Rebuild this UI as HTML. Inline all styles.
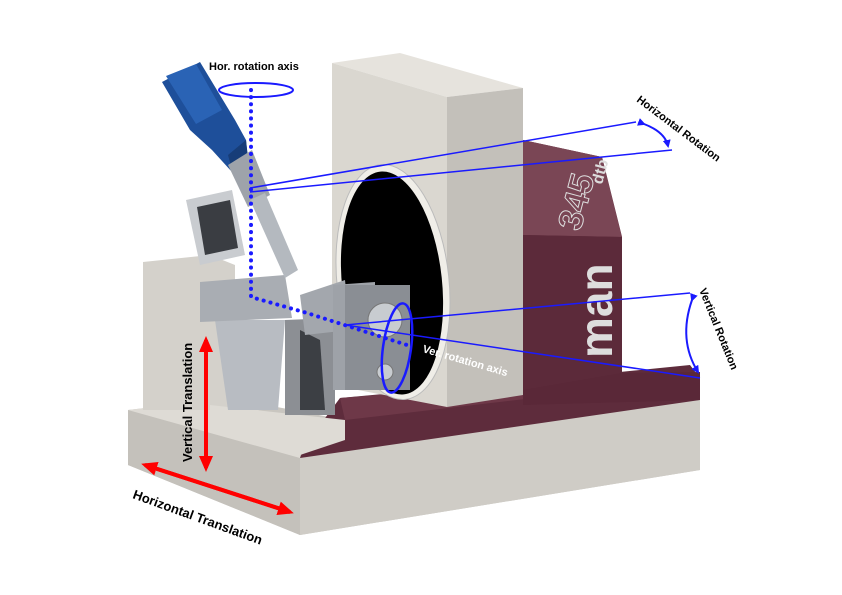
<!DOCTYPE html>
<html><head><meta charset="utf-8"><style>
html,body{margin:0;padding:0;background:#fff;}
svg{display:block;}
text{font-family:"Liberation Sans",sans-serif;font-weight:bold;}
</style></head><body>
<svg width="842" height="595" viewBox="0 0 842 595" xmlns="http://www.w3.org/2000/svg">
<defs>
<marker id="bh" markerWidth="8" markerHeight="8" refX="6" refY="4" orient="auto" markerUnits="userSpaceOnUse"><path d="M0,0 L8,4 L0,8 Z" fill="#1a1aff"/></marker>
<marker id="rh" markerWidth="16" markerHeight="14" refX="12" refY="7" orient="auto" markerUnits="userSpaceOnUse"><path d="M0,0 L16,7 L0,14 Z" fill="#f00"/></marker>
</defs>
<polygon points="128,410 230,398 345,420 700,395 700,470 300,535 128,465" fill="#c9c6c0"/>
<polygon points="128,410 300,458 300,535 128,465" fill="#c4c1bb"/>
<polygon points="300,458 700,398 700,470 300,535" fill="#cfccc6"/>
<polygon points="128,410 215,400 300,420 300,458" fill="#dedbd5"/>
<polygon points="305,445 340,398 560,378 690,365 700,378 700,400 300,458" fill="#5e2c3c"/>
<polygon points="340,398 560,380 560,395 345,420" fill="#6e3848"/>
<polygon points="523,140 602,157 622,237 622,373 700,372 700,400 523,405" fill="#5a2838"/>
<polygon points="523,140 602,157 622,237 523,235" fill="#7a4655"/>
<polygon points="523,235 622,237 622,373 523,390" fill="#5c2a3a"/>
<text x="0" y="0" transform="translate(580,232) rotate(-75)" font-size="34" fill="none" stroke="#ddd" stroke-width="1" font-weight="normal">345</text>
<text x="0" y="0" transform="translate(602,185) rotate(-75)" font-size="16" fill="#ddd">dtb</text>
<text x="0" y="0" transform="translate(612,358) rotate(-90)" font-size="46" fill="#ddd">man</text>
<polygon points="332,63 400,53 523,88 447,97" fill="#e6e3dd"/>
<polygon points="447,97 523,88 523,395 447,407" fill="#c3c0ba"/>
<polygon points="332,63 447,97 447,407 332,385" fill="#dad7d0"/>
<ellipse cx="393" cy="282" rx="56" ry="118" transform="rotate(-6 393 282)" fill="#f0eee8" stroke="#bbb"/>
<ellipse cx="392" cy="283" rx="50" ry="112" transform="rotate(-6 392 283)" fill="#000"/>
<polygon points="143,262 210,255 235,265 235,410 143,410" fill="#d4d1cb"/>
<polygon points="210,405 345,420 345,440 300,455 210,430" fill="#dedbd5"/>
<polygon points="285,320 335,318 335,415 285,415" fill="#8c8f94"/>
<polygon points="300,330 320,340 325,410 300,410" fill="#3c3f44"/>
<polygon points="215,320 285,320 278,410 228,410" fill="#b8bcc2"/>
<polygon points="200,282 285,275 292,318 200,322" fill="#a9adb3"/>
<polygon points="186,200 232,190 245,255 200,265" fill="#c9ccd0"/>
<polygon points="197,207 230,200 238,248 205,255" fill="#3a3d42"/>
<polygon points="162,82 200,62 235,120 246,140 248,160 232,172 212,150 190,130" fill="#1e4f9a"/>
<polygon points="166,76 196,64 222,110 196,124" fill="#2a63b5"/>
<polygon points="232,170 248,158 246,140 228,155" fill="#173d78"/>
<polygon points="228,165 252,150 270,195 248,207" fill="#9ea3aa"/>
<polygon points="250,200 265,193 298,270 285,278" fill="#b4b9bf"/>
<polygon points="300,295 345,280 350,330 305,335" fill="#a3a7ad"/>
<polygon points="333,285 375,282 375,390 333,390" fill="#9ea2a8"/>
<polygon points="345,285 410,285 410,390 345,390" fill="#8a8e94"/>
<circle cx="385" cy="320" r="17" fill="#c8ccd0" stroke="#777"/>
<circle cx="385" cy="372" r="8" fill="#c8ccd0" stroke="#777"/>
<ellipse cx="256" cy="90" rx="37" ry="7" fill="none" stroke="#1a1aff" stroke-width="2"/>
<path d="M251,90 L251,297 L307,313 L407,345" fill="none" stroke="#1a1aff" stroke-width="4" stroke-dasharray="0.1 7" stroke-linecap="round"/>
<path d="M250,188 L636,122 M250,192 L672,150" stroke="#1a1aff" stroke-width="1.5" fill="none"/>
<path d="M644,124 Q665,132 668,146" stroke="#1a1aff" stroke-width="2" fill="none" marker-end="url(#bh)" marker-start="url(#bh)"/>
<path d="M345,325 L690,293 M345,325 L700,378" stroke="#1a1aff" stroke-width="1.5" fill="none"/>
<path d="M692,300 Q678,340 698,372" stroke="#1a1aff" stroke-width="2" fill="none" marker-end="url(#bh)" marker-start="url(#bh)"/>
<ellipse cx="397" cy="348" rx="14" ry="45" transform="rotate(8 397 348)" fill="none" stroke="#1a1aff" stroke-width="2.5"/>
<line x1="206" y1="468" x2="206" y2="340" stroke="#f00" stroke-width="4" marker-end="url(#rh)"/>
<line x1="206" y1="340" x2="206" y2="468" stroke="#f00" stroke-width="4" marker-end="url(#rh)"/>
<line x1="145" y1="465" x2="290" y2="512" stroke="#f00" stroke-width="4" marker-end="url(#rh)"/>
<line x1="290" y1="512" x2="145" y2="465" stroke="#f00" stroke-width="4" marker-end="url(#rh)"/>
<text x="209" y="70" font-size="11" fill="#000">Hor. rotation axis</text>
<text transform="translate(636,101) rotate(37)" font-size="11" fill="#000">Horizontal Rotation</text>
<text transform="translate(699,290) rotate(68)" font-size="11" fill="#000">Vertical Rotation</text>
<text transform="translate(422,352) rotate(16)" font-size="11" fill="#fff">Ver. rotation axis</text>
<text transform="translate(192,462) rotate(-90)" font-size="13" fill="#000">Vertical Translation</text>
<text transform="translate(132,498) rotate(20)" font-size="13" fill="#000">Horizontal Translation</text>
</svg>
</body></html>
